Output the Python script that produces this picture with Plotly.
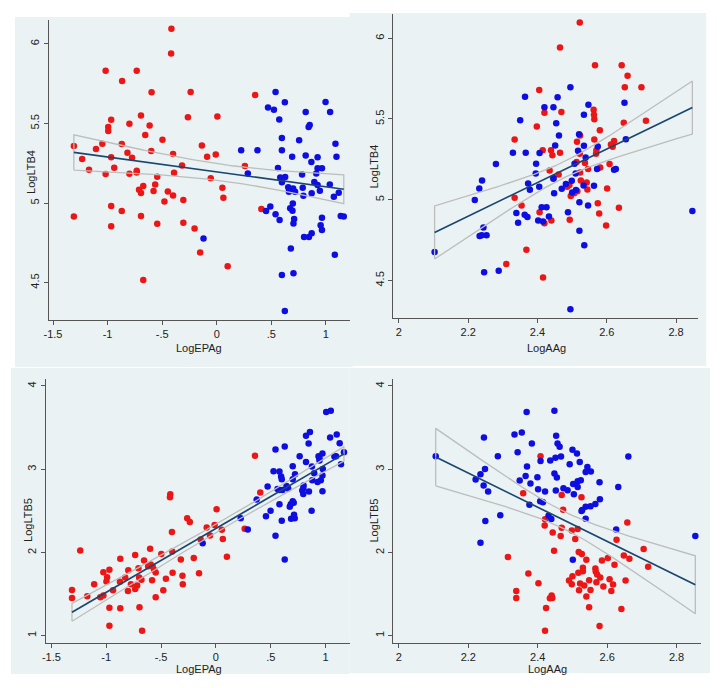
import numpy as np
import plotly.graph_objects as go

# ---------------- data ----------------
# Panel 1: LogLTB4 vs LogEPAg
p1_red_x = [-0.415, -0.418, -1.018, -0.733, -0.867, -0.239, -0.597, 0.352, -0.694, -0.264, 0.006, -0.967,
            -0.800, -0.615, -0.994, -0.994, -0.655, -0.497, -1.048, -0.870, -1.309, -1.106, -0.136, -0.600,
            -0.818, -0.400, -0.009, -0.088, -0.967, -0.776, -1.233, -0.318, 0.258, -1.170, -0.939, -0.733,
            -0.733, -0.391, -1.018, -0.800, -0.545, -0.055, -0.564, -0.673, 0.052, -0.712, -0.579, -0.448,
            -0.694, -0.400, 0.061, -0.306, -0.479, -0.967, -0.870, 0.409, -1.309, -0.694, -0.545, -0.306,
            -0.967, -0.203, -0.152, 0.100, -0.673]
p1_red_y = [6.094, 5.939, 5.831, 5.831, 5.766, 5.697, 5.695, 5.678, 5.550, 5.538, 5.544, 5.523,
            5.498, 5.487, 5.477, 5.452, 5.427, 5.397, 5.372, 5.370, 5.358, 5.339, 5.362, 5.326,
            5.316, 5.308, 5.305, 5.291, 5.287, 5.285, 5.276, 5.236, 5.232, 5.209, 5.222, 5.203,
            5.192, 5.190, 5.182, 5.184, 5.165, 5.155, 5.117, 5.107, 5.096, 5.084, 5.075, 5.073,
            5.063, 5.048, 5.033, 5.019, 5.010, 4.981, 4.950, 4.962, 4.916, 4.918, 4.870, 4.877,
            4.854, 4.841, 4.690, 4.603, 4.517]
p1_blue_x = [0.539, 0.624, 0.997, 0.470, 0.524, 0.815, 1.039, 0.573, 0.852, 0.842, 0.597, 0.755,
             1.088, 0.224, 0.373, 0.597, 0.815, 0.924, 0.691, 1.097, 0.867, 0.561, 0.964, 0.924,
             0.285, 0.782, 0.912, 0.627, 0.582, 1.036, 0.894, 0.597, 0.924, 0.655, 0.700, 0.945,
             0.661, 0.718, 0.788, 1.118, 0.870, 0.794, 1.073, 0.697, 0.491, 0.673, 0.452, 0.694,
             0.539, 1.136, 1.164, 0.964, 0.576, 0.709, 0.703, 0.952, 0.964, 0.870, 0.800, 0.845,
             -0.121, 0.679, 1.082, 0.597, 0.703, 0.624]
p1_blue_y = [5.697, 5.632, 5.634, 5.600, 5.586, 5.571, 5.571, 5.525, 5.490, 5.477, 5.408, 5.395,
             5.372, 5.331, 5.331, 5.331, 5.299, 5.287, 5.291, 5.291, 5.257, 5.220, 5.218, 5.218,
             5.186, 5.180, 5.186, 5.163, 5.161, 5.117, 5.132, 5.130, 5.113, 5.100, 5.092, 5.077,
             5.071, 5.071, 5.096, 5.065, 5.061, 5.046, 5.040, 4.998, 4.979, 4.967, 4.950, 4.952,
             4.929, 4.918, 4.916, 4.908, 4.893, 4.900, 4.872, 4.860, 4.831, 4.810, 4.787, 4.787,
             4.778, 4.715, 4.676, 4.548, 4.559, 4.322]

# Panel 2: LogLTB4 vs LogAAg
p2_red_x = [2.522, 2.465, 2.566, 2.643, 2.660, 2.405, 2.652, 2.700, 2.420, 2.469, 2.562, 2.563,
            2.564, 2.713, 2.649, 2.398, 2.580, 2.523, 2.334, 2.564, 2.514, 2.621, 2.612, 2.617,
            2.415, 2.439, 2.570, 2.465, 2.443, 2.522, 2.569, 2.537, 2.513, 2.608, 2.581, 2.546,
            2.435, 2.523, 2.461, 2.525, 2.542, 2.492, 2.486, 2.515, 2.544, 2.601, 2.506, 2.496,
            2.334, 2.354, 2.574, 2.635, 2.578, 2.406, 2.440, 2.493, 2.420, 2.598, 2.368, 2.310,
            2.416]
p2_red_y = [6.097, 5.942, 5.833, 5.833, 5.767, 5.680, 5.697, 5.697, 5.538, 5.544, 5.557, 5.526,
            5.499, 5.489, 5.476, 5.454, 5.431, 5.398, 5.373, 5.373, 5.359, 5.363, 5.342, 5.328,
            5.307, 5.307, 5.307, 5.291, 5.276, 5.285, 5.285, 5.227, 5.233, 5.221, 5.200, 5.190,
            5.181, 5.169, 5.157, 5.120, 5.107, 5.091, 5.080, 5.052, 5.064, 5.070, 5.041, 5.023,
            5.012, 4.965, 4.979, 4.951, 4.915, 4.922, 4.872, 4.876, 4.854, 4.841, 4.691, 4.602,
            4.518]
p2_blue_x = [2.495, 2.364, 2.458, 2.420, 2.446, 2.651, 2.547, 2.534, 2.350, 2.454, 2.462, 2.520,
             2.655, 2.451, 2.534, 2.574, 2.329, 2.366, 2.406, 2.517, 2.539, 2.280, 2.396, 2.507,
             2.626, 2.621, 2.572, 2.395, 2.510, 2.446, 2.446, 2.240, 2.499, 2.373, 2.482, 2.563,
             2.232, 2.378, 2.470, 2.405, 2.511, 2.533, 2.448, 2.500, 2.219, 2.521, 2.412, 2.426,
             2.546, 2.847, 2.339, 2.488, 2.363, 2.371, 2.433, 2.402, 2.416, 2.344, 2.521, 2.244,
             2.233, 2.253, 2.239, 2.103, 2.535, 2.246, 2.288, 2.495]
p2_blue_y = [5.697, 5.637, 5.635, 5.573, 5.573, 5.600, 5.588, 5.526, 5.493, 5.474, 5.398, 5.406,
             5.375, 5.336, 5.334, 5.330, 5.291, 5.291, 5.289, 5.303, 5.262, 5.221, 5.223, 5.223,
             5.190, 5.186, 5.190, 5.163, 5.163, 5.134, 5.130, 5.120, 5.118, 5.101, 5.097, 5.087,
             5.070, 5.062, 5.068, 5.080, 5.060, 5.089, 5.041, 5.045, 4.998, 4.984, 4.953, 4.953,
             4.965, 4.930, 4.918, 4.922, 4.907, 4.893, 4.897, 4.872, 4.866, 4.858, 4.808, 4.829,
             4.775, 4.781, 4.781, 4.676, 4.718, 4.551, 4.561, 4.322]

# Panel 3: LogLTB5 vs LogEPAg
p3_red_x = [0.356, 0.404, -0.416, -0.419, -0.262, -0.238, 0.006, -0.012, -0.084, 0.054, 0.262, -0.401,
            -0.054, 0.063, -0.139, -1.237, -0.600, -0.398, -0.498, 0.100, -0.202, -0.872, -0.320, -0.736,
            -0.655, -0.618, -0.594, -0.576, -0.706, -0.564, -0.799, -0.971, -1.026, -0.549, -0.395, -0.154,
            -0.992, -0.827, -0.305, -0.700, -0.456, -0.582, -0.998, -0.875, -0.679, -1.110, -0.775, -0.302,
            -0.718, -0.736, -0.938, -0.802, -0.480, -1.312, -1.026, -1.173, -1.054, -0.549, -1.312, -0.971,
            -0.872, -0.697, -0.971, -0.673]
p3_red_y = [3.161, 2.719, 2.699, 2.663, 2.410, 2.365, 2.518, 2.329, 2.301, 2.273, 2.285, 2.245,
            2.205, 2.161, 2.157, 2.024, 2.044, 2.012, 1.980, 1.948, 1.932, 1.924, 1.916, 1.968,
            1.904, 1.835, 1.855, 1.827, 1.811, 1.791, 1.787, 1.791, 1.763, 1.759, 1.755, 1.751,
            1.703, 1.699, 1.719, 1.699, 1.683, 1.667, 1.651, 1.647, 1.671, 1.618, 1.618, 1.618,
            1.602, 1.562, 1.546, 1.538, 1.546, 1.550, 1.482, 1.474, 1.462, 1.462, 1.454, 1.337,
            1.329, 1.341, 1.120, 1.060]
p3_blue_x = [1.047, 1.005, 0.857, 0.821, 1.101, 1.041, 0.845, 1.128, 0.627, 0.543, 1.167, 0.971,
             0.763, 0.935, 1.080, 1.095, 0.944, 0.944, 1.140, 0.821, 0.700, 0.875, 0.974, 0.525,
             0.579, 0.896, 0.721, 0.971, 0.594, 0.600, 0.700, 0.878, 0.956, 0.926, 0.799, 0.643,
             0.471, 0.796, 0.658, 0.561, 0.579, 0.606, 0.787, 0.848, 0.971, 0.796, 0.371, 0.700,
             0.709, 0.682, 0.579, 0.673, 0.498, 0.872, 0.456, 0.712, 0.685, 0.718, 0.226, 0.600,
             0.290, 0.543, -0.121, 0.627]
p3_blue_y = [3.703, 3.687, 3.446, 3.402, 3.418, 3.382, 3.309, 3.313, 3.273, 3.237, 3.205, 3.189,
             3.157, 3.157, 3.153, 3.157, 3.104, 3.133, 3.060, 3.088, 3.036, 3.032, 3.004, 2.976,
             2.972, 2.952, 2.940, 2.924, 2.912, 2.880, 2.880, 2.867, 2.867, 2.847, 2.803, 2.799,
             2.791, 2.771, 2.767, 2.763, 2.751, 2.751, 2.743, 2.731, 2.735, 2.703, 2.635, 2.614,
             2.598, 2.578, 2.578, 2.550, 2.502, 2.502, 2.434, 2.454, 2.406, 2.410, 2.410, 2.382,
             2.277, 2.201, 2.112, 1.916]

# Panel 4: LogLTB5 vs LogAAg
p4_red_x = [2.408, 2.358, 2.469, 2.526, 2.473, 2.421, 2.658, 2.420, 2.469, 2.515, 2.498, 2.443,
            2.466, 2.508, 2.627, 2.705, 2.447, 2.518, 2.527, 2.314, 2.648, 2.664, 2.540, 2.602,
            2.585, 2.621, 2.718, 2.566, 2.530, 2.567, 2.530, 2.517, 2.373, 2.571, 2.580, 2.500,
            2.607, 2.548, 2.653, 2.490, 2.569, 2.522, 2.498, 2.402, 2.617, 2.534, 2.589, 2.519,
            2.552, 2.612, 2.338, 2.540, 2.440, 2.338, 2.442, 2.435, 2.548, 2.424, 2.641, 2.578,
            2.421]
p4_red_y = [3.157, 2.711, 2.691, 2.663, 2.514, 2.398, 2.361, 2.325, 2.297, 2.281, 2.265, 2.241,
            2.197, 2.161, 2.153, 2.040, 2.020, 2.004, 1.980, 1.944, 1.964, 1.924, 1.912, 1.932,
            1.904, 1.851, 1.827, 1.807, 1.815, 1.771, 1.775, 1.755, 1.747, 1.735, 1.699, 1.715,
            1.679, 1.667, 1.663, 1.663, 1.643, 1.627, 1.618, 1.631, 1.614, 1.602, 1.590, 1.546,
            1.550, 1.538, 1.538, 1.470, 1.482, 1.454, 1.454, 1.450, 1.341, 1.333, 1.321, 1.116,
            1.060]
p4_blue_x = [2.368, 2.448, 2.354, 2.333, 2.453, 2.245, 2.457, 2.383, 2.463, 2.500, 2.342, 2.513,
             2.106, 2.285, 2.467, 2.451, 2.661, 2.436, 2.408, 2.521, 2.492, 2.369, 2.543, 2.248,
             2.553, 2.538, 2.448, 2.235, 2.365, 2.455, 2.399, 2.348, 2.524, 2.515, 2.221, 2.578,
             2.502, 2.379, 2.244, 2.515, 2.632, 2.474, 2.486, 2.452, 2.401, 2.257, 2.504, 2.579,
             2.421, 2.566, 2.407, 2.415, 2.376, 2.538, 2.552, 2.526, 2.528, 2.431, 2.439, 2.538,
             2.292, 2.249, 2.626, 2.854, 2.235, 2.501]
p4_blue_y = [3.687, 3.703, 3.442, 3.418, 3.402, 3.382, 3.309, 3.309, 3.269, 3.233, 3.205, 3.189,
             3.157, 3.157, 3.153, 3.137, 3.153, 3.104, 3.100, 3.088, 3.060, 3.032, 3.028, 3.004,
             2.972, 2.968, 2.948, 2.940, 2.920, 2.900, 2.904, 2.863, 2.867, 2.855, 2.876, 2.843,
             2.823, 2.827, 2.803, 2.787, 2.787, 2.771, 2.747, 2.743, 2.759, 2.731, 2.699, 2.639,
             2.731, 2.582, 2.614, 2.602, 2.574, 2.550, 2.554, 2.498, 2.510, 2.442, 2.402, 2.406,
             2.446, 2.378, 2.277, 2.197, 2.116, 1.912]

# axis tick labels
epa_ticks = [-1.5, -1, -0.5, 0, 0.5, 1]
epa_ticktext = ["-1.5", "-1", "-.5", "0", ".5", "1"]
aa_ticks = [2, 2.2, 2.4, 2.6, 2.8]
aa_ticktext = ["2", "2.2", "2.4", "2.6", "2.8"]
ltb4_ticks = [4.5, 5, 5.5, 6]
ltb4_ticktext = ["4.5", "5", "5.5", "6"]
ltb5_ticks = [1, 2, 3, 4]
ltb5_ticktext = ["1", "2", "3", "4"]

# ---------------- styling ----------------
W, H = 727, 688
DX, DY = 10, 8          # page offset of the plot inside the browser window
RED = "rgb(236,22,22)"
BLUE = "rgb(14,14,226)"
NAVY = "#1A476F"
CIGRAY = "#BDBDBD"
BG = "#EAF2F3"
FONT = "Liberation Sans Narrow, Arial Narrow, Liberation Sans, Arial, sans-serif"


def fx(p):
    return (p - DX) / W


def fy(p):
    return 1 - (p - DY) / H


def px_x(a, b):
    return [fx(a), fx(b)]


def px_y(top, bottom):
    return [fy(bottom), fy(top)]


def fit_ci(x, y):
    x = np.asarray(x, float)
    y = np.asarray(y, float)
    n = len(x)
    b, a = np.polyfit(x, y, 1)
    resid = y - (a + b * x)
    s = np.sqrt(np.sum(resid ** 2) / (n - 2))
    xm = x.mean()
    sxx = np.sum((x - xm) ** 2)
    xs = np.linspace(x.min(), x.max(), 100)
    yh = a + b * xs
    se = s * np.sqrt(1.0 / n + (xs - xm) ** 2 / sxx)
    t = 1.978
    return xs, yh, yh - t * se, yh + t * se


panels = [
    dict(rx=p1_red_x, ry=p1_red_y, bx=p1_blue_x, by=p1_blue_y),
    dict(rx=p2_red_x, ry=p2_red_y, bx=p2_blue_x, by=p2_blue_y),
    dict(rx=p3_red_x, ry=p3_red_y, bx=p3_blue_x, by=p3_blue_y),
    dict(rx=p4_red_x, ry=p4_red_y, bx=p4_blue_x, by=p4_blue_y),
]

fig = go.Figure()
for i, p in enumerate(panels, start=1):
    xa = "x" if i == 1 else f"x{i}"
    ya = "y" if i == 1 else f"y{i}"
    allx = list(p["rx"]) + list(p["bx"])
    ally = list(p["ry"]) + list(p["by"])
    xs, yh, lo, hi = fit_ci(allx, ally)
    fig.add_trace(go.Scatter(x=p["rx"], y=p["ry"], mode="markers", xaxis=xa, yaxis=ya,
                             marker=dict(color=RED, size=6.5, line=dict(width=0)), showlegend=False))
    fig.add_trace(go.Scatter(x=p["bx"], y=p["by"], mode="markers", xaxis=xa, yaxis=ya,
                             marker=dict(color=BLUE, size=6.5, line=dict(width=0)), showlegend=False))
    poly_x = list(xs) + list(xs[::-1]) + [xs[0]]
    poly_y = list(lo) + list(hi[::-1]) + [lo[0]]
    fig.add_trace(go.Scatter(x=poly_x, y=poly_y, mode="lines", xaxis=xa, yaxis=ya,
                             line=dict(color=CIGRAY, width=1.3), showlegend=False))
    fig.add_trace(go.Scatter(x=xs, y=yh, mode="lines", xaxis=xa, yaxis=ya,
                             line=dict(color=NAVY, width=1.7), showlegend=False))

axis_common = dict(showline=True, linecolor="#555555", linewidth=1, ticks="outside",
                   ticklen=4, tickwidth=1, tickcolor="#555555", zeroline=False,
                   tickfont=dict(family=FONT, size=11, color="#222222"))
xcommon = dict(axis_common, showgrid=False)
ycommon = dict(axis_common, showgrid=True, gridcolor=BG, gridwidth=1.2, tickangle=-90)

fig.update_layout(
    width=W, height=H, margin=dict(l=0, r=0, t=0, b=0),
    paper_bgcolor="white", plot_bgcolor="white", showlegend=False,
    xaxis=dict(xcommon, domain=px_x(46, 349), range=[-1.539, 1.218], anchor="y",
               tickvals=epa_ticks, ticktext=epa_ticktext),
    yaxis=dict(ycommon, domain=px_y(20, 320), range=[4.266, 6.149], anchor="x",
               tickvals=ltb4_ticks, ticktext=ltb4_ticktext),
    xaxis2=dict(xcommon, domain=px_x(393, 700), range=[1.984, 2.864], anchor="y2",
                tickvals=aa_ticks, ticktext=aa_ticktext),
    yaxis2=dict(ycommon, domain=px_y(14, 318), range=[4.268, 6.150], anchor="x2",
                tickvals=ltb4_ticks, ticktext=ltb4_ticktext),
    xaxis3=dict(xcommon, domain=px_x(43, 349), range=[-1.551, 1.219], anchor="y3",
                tickvals=epa_ticks, ticktext=epa_ticktext),
    yaxis3=dict(ycommon, domain=px_y(379, 643), range=[0.912, 4.084], anchor="x3",
                tickvals=ltb5_ticks, ticktext=ltb5_ticktext),
    xaxis4=dict(xcommon, domain=px_x(393, 703), range=[1.984, 2.871], anchor="y4",
                tickvals=aa_ticks, ticktext=aa_ticktext),
    yaxis4=dict(ycommon, domain=px_y(379, 643), range=[0.912, 4.084], anchor="x4",
                tickvals=ltb5_ticks, ticktext=ltb5_ticktext),
)

# graph-region backgrounds (pixel boxes)
regions = [(12, 17, 352, 367), (349, 13, 708, 366), (8, 368, 349, 674), (349, 368, 712, 673)]
for (x0, y0, x1, y1) in regions:
    fig.add_shape(type="rect", xref="paper", yref="paper", layer="below",
                  x0=fx(x0), x1=fx(x1), y0=fy(y1), y1=fy(y0),
                  fillcolor=BG, line=dict(width=0))

# axis titles
titles = [
    ("LogEPAg", 197, 348, 0), ("LogLTB4", 28, 172, -90),
    ("LogAAg", 547, 348, 0), ("LogLTB4", 373, 167, -90),
    ("LogEPAg", 197, 669, 0), ("LogLTB5", 25, 520, -90),
    ("LogAAg", 548, 669, 0), ("LogLTB5", 374, 520, -90),
]
for text, x, y, ang in titles:
    fig.add_annotation(text=text, xref="paper", yref="paper", x=fx(x), y=fy(y),
                       showarrow=False, textangle=ang, xanchor="center", yanchor="middle",
                       font=dict(family=FONT, size=11, color="#222222"))

fig.write_html("out.html")
